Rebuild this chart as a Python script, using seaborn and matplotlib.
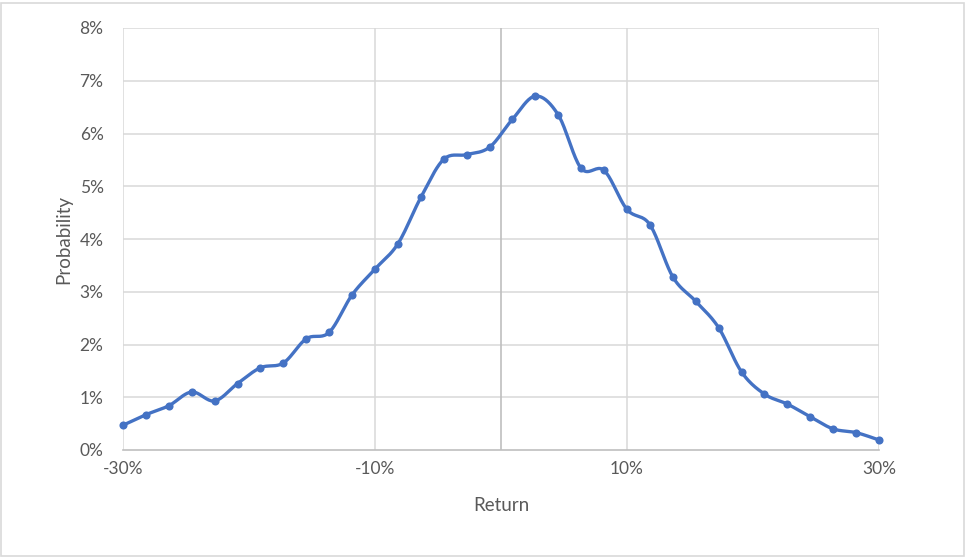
import numpy as np
import pandas as pd
import matplotlib
matplotlib.use("Agg")
import matplotlib.pyplot as plt
from matplotlib.ticker import MultipleLocator, FuncFormatter
from matplotlib.patches import Rectangle
import seaborn as sns

# ---- data (returns in %, probability in %) ----
returns = [-30.00, -28.18, -26.36, -24.55, -22.73, -20.91, -19.09, -17.27, -15.45,
           -13.64, -11.82, -10.00, -8.18, -6.36, -4.55, -2.73, -0.91, 0.91, 2.73,
           4.55, 6.36, 8.18, 10.00, 11.82, 13.64, 15.45, 17.27, 19.09, 20.91, 22.73,
           24.55, 26.36, 28.18, 30.00]
probability = [0.47, 0.67, 0.84, 1.10, 0.93, 1.26, 1.56, 1.65, 2.11, 2.23, 2.94,
               3.43, 3.91, 4.79, 5.51, 5.60, 5.74, 6.27, 6.71, 6.35, 5.34, 5.30,
               4.56, 4.27, 3.28, 2.82, 2.32, 1.48, 1.06, 0.87, 0.63, 0.40, 0.33, 0.19]
x_ticks = [-30, -10, 10, 30]
y_ticks = [0, 1, 2, 3, 4, 5, 6, 7, 8]
x_label = "Return"
y_label = "Probability"

df = pd.DataFrame({"Return": returns, "Probability": probability})


def smooth_curve(xs, ys, n=20):
    """Excel-like smoothed line via cubic Bezier segments (Catmull-Rom tangents)."""
    xs = np.asarray(xs, float)
    ys = np.asarray(ys, float)
    P = np.column_stack([xs, ys])
    out = []
    t = np.linspace(0, 1, n, endpoint=False)[:, None]
    for i in range(len(P) - 1):
        p0 = P[i - 1] if i > 0 else P[i]
        p1 = P[i]
        p2 = P[i + 1]
        p3 = P[i + 2] if i + 2 < len(P) else P[i + 1]
        c1 = p1 + (p2 - p0) / 6.0
        c2 = p2 - (p3 - p1) / 6.0
        seg = ((1 - t) ** 3) * p1 + 3 * ((1 - t) ** 2) * t * c1 + 3 * (1 - t) * t ** 2 * c2 + t ** 3 * p2
        out.append(seg)
    out.append(P[-1][None, :])
    arr = np.vstack(out)
    return arr[:, 0], arr[:, 1]


sx, sy = smooth_curve(df["Return"], df["Probability"])
smooth_df = pd.DataFrame({"Return": sx, "Probability": sy, "order": np.arange(len(sx))})

sns.set_theme(style="white")
plt.rcParams["font.family"] = ["Lato", "DejaVu Sans"]

W, H, DPI = 966, 557, 100
fig = plt.figure(figsize=(W / DPI, H / DPI), dpi=DPI)
ax = fig.add_axes([123 / W, 1 - 450 / H, (879 - 123) / W, (450 - 28) / H])

line_color = "#4472C4"
grid_color = "#D9D9D9"
axis_color = "#BFBFBF"
text_color = "#595959"

ax.set_xlim(-30, 30)
ax.set_ylim(0, 8)

# gridlines
for yv in y_ticks[1:]:
    ax.axhline(yv, color=grid_color, lw=1.1, zorder=0)
for xv in x_ticks:
    ax.axvline(xv, color=grid_color, lw=1.1, zorder=0)
ax.axvline(0, color=axis_color, lw=1.2, zorder=0.5)

sns.lineplot(data=smooth_df, x="Return", y="Probability", sort=False,
             color=line_color, lw=2.4, ax=ax, zorder=3, estimator=None)
sns.scatterplot(data=df, x="Return", y="Probability", color=line_color, s=34,
                edgecolor=line_color, linewidth=0, ax=ax, zorder=4, clip_on=False)

for s in ["top", "right", "left"]:
    ax.spines[s].set_visible(False)
ax.spines["bottom"].set_color(axis_color)
ax.spines["bottom"].set_linewidth(1.2)
ax.spines["bottom"].set_zorder(2)

ax.set_xticks(x_ticks)
ax.xaxis.set_minor_locator(MultipleLocator(5))
ax.set_yticks(y_ticks)
fmt = FuncFormatter(lambda v, p: f"{v:.0f}%")
ax.xaxis.set_major_formatter(fmt)
ax.yaxis.set_major_formatter(fmt)
ax.tick_params(axis="x", which="major", length=0, pad=8, labelsize=12.5, labelcolor=text_color)
ax.tick_params(axis="x", which="minor", length=4, width=1, color=axis_color, direction="out")
ax.tick_params(axis="y", which="major", length=0, pad=14, labelsize=12.5, labelcolor=text_color)

ax.set_xlabel(x_label, fontsize=13.5, color=text_color, labelpad=14)
ax.set_ylabel(y_label, fontsize=13.5, color=text_color, labelpad=5)

# chart border
fig.patches.append(Rectangle((0.5 / W, 1.5 / H), (W - 3) / W, (H - 4) / H,
                             transform=fig.transFigure, fill=False,
                             edgecolor="#D9D9D9", lw=1.2))

fig.savefig("out.png", dpi=DPI, facecolor="white")
